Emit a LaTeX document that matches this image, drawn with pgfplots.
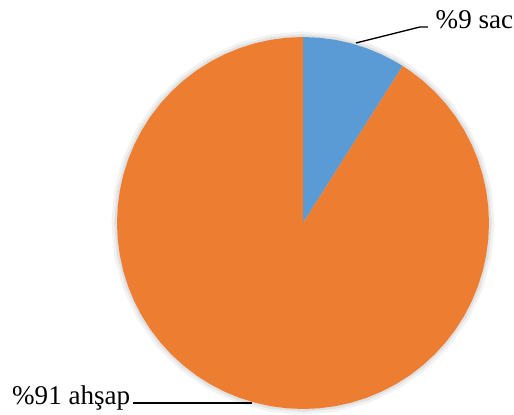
\documentclass[border=0pt]{standalone}
\usepackage{fontspec}
\setmainfont{Liberation Serif}
\usepackage{pgfplots}
\pgfplotsset{compat=1.18}
\usepgfplotslibrary{polar}
\definecolor{pieblue}{HTML}{5B9BD5}
\definecolor{pieorange}{HTML}{ED7D31}
\begin{document}
\begin{tikzpicture}
\begin{axis}[
  scale only axis,
  width=385.5pt, height=310.5pt,
  xmin=-1.629, xmax=1.1344,
  ymin=-1.0269, ymax=1.1989,
  hide axis, clip=false,
]
\path (rel axis cs:0,0) rectangle (rel axis cs:1,1);
% soft shadow
\addplot[fill=black, draw=none, opacity=0.05, data cs=polar] coordinates {
(0,1.03)(10,1.03)(20,1.03)(30,1.03)(40,1.03)(50,1.03)(60,1.03)(70,1.03)(80,1.03)(90,1.03)
(100,1.03)(110,1.03)(120,1.03)(130,1.03)(140,1.03)(150,1.03)(160,1.03)(170,1.03)(180,1.03)
(190,1.03)(200,1.03)(210,1.03)(220,1.03)(230,1.03)(240,1.03)(250,1.03)(260,1.03)(270,1.03)
(280,1.03)(290,1.03)(300,1.03)(310,1.03)(320,1.03)(330,1.03)(340,1.03)(350,1.03)(360,1.03)} -- cycle;
\addplot[fill=black, draw=none, opacity=0.07, data cs=polar] coordinates {
(0,1.015)(10,1.015)(20,1.015)(30,1.015)(40,1.015)(50,1.015)(60,1.015)(70,1.015)(80,1.015)(90,1.015)
(100,1.015)(110,1.015)(120,1.015)(130,1.015)(140,1.015)(150,1.015)(160,1.015)(170,1.015)(180,1.015)
(190,1.015)(200,1.015)(210,1.015)(220,1.015)(230,1.015)(240,1.015)(250,1.015)(260,1.015)(270,1.015)
(280,1.015)(290,1.015)(300,1.015)(310,1.015)(320,1.015)(330,1.015)(340,1.015)(350,1.015)(360,1.015)} -- cycle;
% slice: sac 9%
\addplot[fill=pieblue, draw=none, data cs=polar] coordinates {
(0,0)(57.6,1)(60,1)(65,1)(70,1)(75,1)(80,1)(85,1)(90,1)} -- cycle;
% slice: ahsap 91%
\addplot[fill=pieorange, draw=none, data cs=polar] coordinates {
(0,0)(90,1)(95,1)(100,1)(105,1)(110,1)(115,1)(120,1)(125,1)(130,1)(135,1)(140,1)(145,1)
(150,1)(155,1)(160,1)(165,1)(170,1)(175,1)(180,1)(185,1)(190,1)(195,1)(200,1)(205,1)
(210,1)(215,1)(220,1)(225,1)(230,1)(235,1)(240,1)(245,1)(250,1)(255,1)(260,1)(265,1)
(270,1)(275,1)(280,1)(285,1)(290,1)(295,1)(300,1)(305,1)(310,1)(315,1)(320,1)(325,1)
(330,1)(335,1)(340,1)(345,1)(350,1)(355,1)(360,1)(365,1)(370,1)(375,1)(380,1)(385,1)
(390,1)(395,1)(400,1)(405,1)(410,1)(415,1)(417.6,1)} -- cycle;
% leader lines
\addplot[black, line width=1pt] coordinates {(0.285,0.968)(0.629,1.054)(0.672,1.054)};
\addplot[black, line width=1pt] coordinates {(-0.914,-0.968)(-0.274,-0.968)};
% labels
\node[anchor=base west, inner sep=0pt, font=\fontsize{20.3pt}{24pt}\selectfont] at (axis cs:0.712,1.048) {\%9 sac};
\node[anchor=base west, inner sep=0pt, font=\fontsize{20.3pt}{24pt}\selectfont] at (axis cs:-1.565,-0.978) {\%91 ahşap};
\end{axis}
\end{tikzpicture}
\end{document}
